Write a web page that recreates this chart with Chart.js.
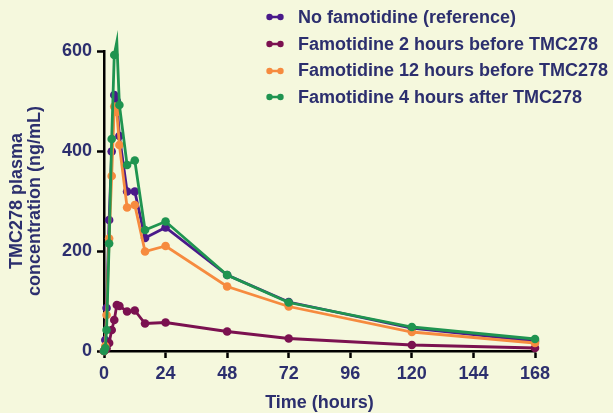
<!DOCTYPE html>
<html>
<head>
<meta charset="utf-8">
<script src="https://cdn.jsdelivr.net/npm/chart.js@4/dist/chart.umd.min.js"></script>
<style>
  body { margin: 0; background: #f5f8dd; }
  #wrap { position: relative; width: 613px; height: 413px; }
  #legend { position: absolute; left: 266px; top: 4px; font: bold 18px "Liberation Sans", Arial, sans-serif; color: #2c2f6e; }
  #legend div { height: 26.7px; display: flex; align-items: center; white-space: nowrap; }
  #legend svg { margin-right: 14px; }
</style>
</head>
<body>
<div id="wrap">
  <canvas id="pk-chart"></canvas>
  <div id="legend"></div>
</div>
<script>
// sampling times (hours)
const timeHours = [0, 0.5, 1, 2, 3, 4, 5, 6, 9, 12, 16, 24, 48, 72, 120, 168];

const noFamotidine = [0, 22, 86, 262, 399, 512, 500, 430, 319, 319, 226, 247, 152, 98, 46, 20];
const famo2hBefore = [0, 2, 5, 16, 42, 62, 92, 90, 79, 81, 55, 57, 39, 25, 12, 6];
const famo12hBefore = [0, 10, 72, 225, 350, 489, 478, 412, 287, 292, 199, 210, 129, 89, 38, 16];
const famo4hAfter = [0, 6, 42, 215, 424, 592, 618, 492, 372, 381, 242, 259, 152, 97, 48, 24];

const seriesNames = [
  'No famotidine (reference)',
  'Famotidine 2 hours before TMC278',
  'Famotidine 12 hours before TMC278',
  'Famotidine 4 hours after TMC278'
];
const seriesColors = ['#4a1a8a', '#7b1150', '#f68b3f', '#1f9450'];
const seriesValues = [noFamotidine, famo2hBefore, famo12hBefore, famo4hAfter];

const xTicks = [0, 24, 48, 72, 96, 120, 144, 168];
const yTicks = [0, 200, 400, 600];

const textColor = '#2c2f6e';
const font = { family: '"Liberation Sans", Arial, sans-serif', size: 18, weight: 'bold', lineHeight: 1 };

const datasets = seriesValues.map((vals, i) => ({
  label: seriesNames[i],
  data: vals.map((v, j) => ({ x: timeHours[j], y: v })),
  borderColor: seriesColors[i],
  backgroundColor: seriesColors[i],
  borderWidth: 2.8,
  pointRadius: 4.3,
  pointBorderWidth: 0,
  tension: 0,
  clip: false,
  order: [4, 3, 2, 1][i]
}));

const pkCanvas = document.getElementById('pk-chart');
const pkChart = new Chart(pkCanvas, {
  type: 'line',
  data: { datasets: datasets },
  options: {
    responsive: true,
    maintainAspectRatio: false,
    animation: false,
    layout: { padding: { top: 51, right: 78, left: 0, bottom: 0 } },
    plugins: { legend: { display: false }, tooltip: { enabled: false } },
    scales: {
      x: {
        type: 'linear',
        min: 0,
        max: 168,
        afterBuildTicks: s => { s.ticks = xTicks.map(v => ({ value: v })); },
        afterFit: s => { s.height = 62; },
        border: { display: true, color: '#000', width: 2.5 },
        grid: { drawOnChartArea: false, drawTicks: true, tickLength: 7, tickWidth: 2.5, tickColor: '#000' },
        ticks: { color: textColor, font: font, padding: 7, maxRotation: 0 },
        title: { display: true, text: 'Time (hours)', color: textColor, font: font, padding: { top: 0, bottom: 1 } }
      },
      y: {
        min: 0,
        max: 600,
        afterBuildTicks: s => { s.ticks = yTicks.map(v => ({ value: v })); },
        afterFit: s => { s.width = 104; },
        border: { display: true, color: '#000', width: 2.5 },
        grid: { drawOnChartArea: false, drawTicks: true, tickLength: 7, tickWidth: 2.5, tickColor: '#000' },
        ticks: { color: textColor, font: font, padding: 5 },
        title: {
          display: true,
          text: ['TMC278 plasma', 'concentration (ng/mL)'],
          color: textColor,
          font: font,
          padding: { top: 8, bottom: 0 }
        }
      }
    }
  }
});

// legend: dot - line - dot marker plus name
const legendBox = document.getElementById('legend');
legendBox.innerHTML = seriesNames.map((name, i) => `<div>
  <svg width="18" height="8"><line x1="3" y1="4" x2="15" y2="4" stroke="${seriesColors[i]}" stroke-width="2.5"/>
  <circle cx="3.5" cy="4" r="3.2" fill="${seriesColors[i]}"/><circle cx="14.5" cy="4" r="3.2" fill="${seriesColors[i]}"/></svg>${name}</div>`).join('');
</script>
</body>
</html>
